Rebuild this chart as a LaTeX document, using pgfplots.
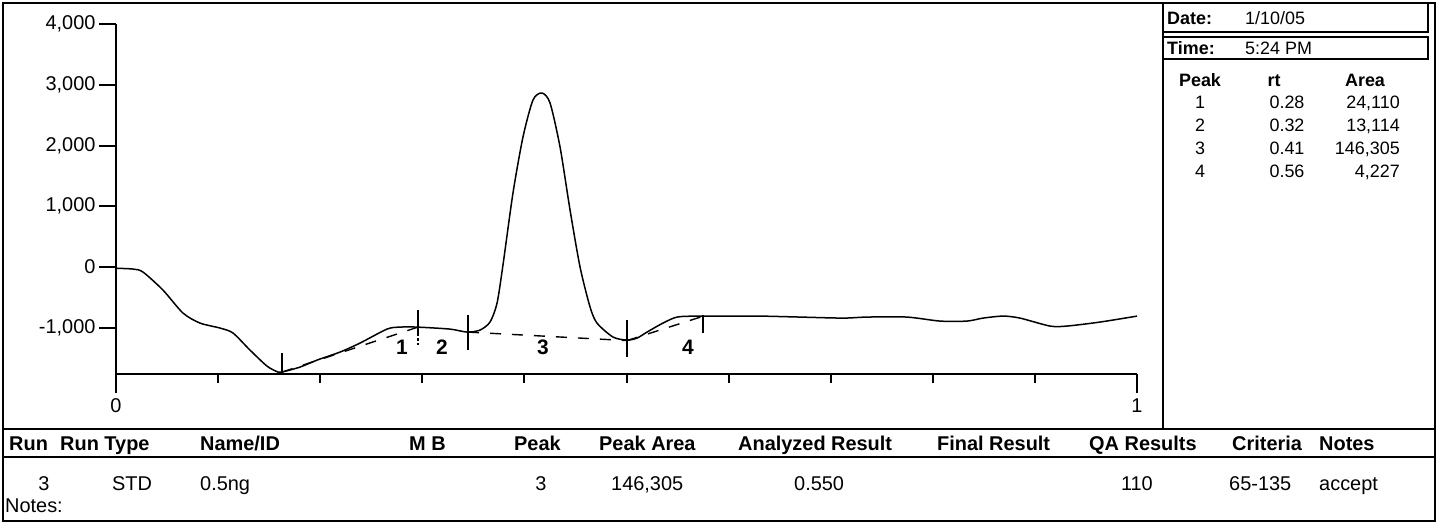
\documentclass[border=0pt]{standalone}
\usepackage{fontspec}
\setmainfont{Liberation Sans}
\usepackage{pgfplots}
\pgfplotsset{compat=1.18}

\newcommand\fs[1]{\fontsize{#1}{#1}\selectfont}

% chromatogram trace (retention time, signal)
\pgfplotstableread{
x y
0.0000 -20
0.0167 -33
0.0264 -82
0.0460 -379
0.0656 -757
0.0823 -922
0.1019 -1004
0.1146 -1086
0.1312 -1366
0.1479 -1630
0.1587 -1728
0.1626 -1728
0.1802 -1646
0.1969 -1531
0.2194 -1399
0.2390 -1251
0.2654 -1021
0.2782 -988
0.2948 -988
0.3271 -1021
0.3438 -1070
0.3565 -1037
0.3663 -905
0.3732 -593
0.3790 33
0.3888 1218
0.3986 2140
0.4084 2749
0.4172 2864
0.4251 2700
0.4349 1975
0.4447 938
0.4545 0
0.4643 -658
0.4711 -922
0.4868 -1152
0.5005 -1202
0.5103 -1169
0.5201 -1070
0.5357 -922
0.5495 -823
0.5690 -807
0.5945 -807
0.6308 -807
0.6700 -823
0.7120 -840
0.7356 -823
0.7747 -823
0.8070 -889
0.8335 -889
0.8492 -840
0.8688 -807
0.8854 -840
0.9148 -971
0.9314 -971
0.9638 -905
1.0000 -807
}\trace

\begin{document}
\begin{tikzpicture}[x=1bp,y=-1bp]
\useasboundingbox (0,0) rectangle (1443,526);

% outer frame and panel rules
\draw[line width=2bp] (3,3) rectangle (1435,521);
\draw[line width=2bp] (3,429) -- (1435,429);
\draw[line width=1.6bp] (3,457) -- (1435,457);
\draw[line width=1.6bp] (1163,3) -- (1163,429);
\draw[line width=1.6bp] (1163,32) -- (1428,32) -- (1428,3);
\draw[line width=1.6bp] (1163,37) -- (1428,37) -- (1428,59) -- (1163,59);

% signal panel
\begin{axis}[at={(116bp,-374bp)}, anchor=south west, scale only axis,
  width=1021bp, height=350bp, xmin=0, xmax=1, ymin=-1760, ymax=4000,
  clip=false,
  axis x line*=bottom, axis y line*=left,
  axis line style={line width=2bp,-},
  tick align=outside, major tick length=9bp,
  tick style={line width=2bp,black},
  xtick={0.1,0.2,0.3,0.4,0.5,0.6,0.7,0.8,0.9}, xticklabels={},
  extra x ticks={0,1}, extra x tick labels={0,1},
  extra x tick style={major tick length=19bp},
  xticklabel style={font=\fs{20}, yshift=-2bp},
  ytick=\empty]
\addplot[line width=1.5bp, smooth, tension=0.45] table[x=x,y=y] {\trace};
% integration baselines
\addplot[line width=1.4bp, dash pattern=on 11bp off 11bp] coordinates {(0.1626,-1728) (0.2958,-988)};
\addplot[line width=1.4bp, dash pattern=on 11bp off 11bp] coordinates {(0.3448,-1070) (0.5005,-1210)};
\addplot[line width=1.4bp, dash pattern=on 11bp off 11bp] coordinates {(0.5005,-1210) (0.5749,-810)};
% peak start/end markers
\addplot[line width=1.7bp] coordinates {(0.1626,-1416) (0.1626,-1728)};
\addplot[line width=1.7bp] coordinates {(0.2958,-708) (0.2958,-1086)};
\addplot[line width=1.2bp, dash pattern=on 3bp off 2bp] coordinates {(0.2958,-1086) (0.2958,-1284)};
\addplot[line width=1.7bp] coordinates {(0.3448,-790) (0.3448,-1366)};
\addplot[line width=1.7bp] coordinates {(0.5005,-872) (0.5005,-1481)};
\addplot[line width=1.7bp] coordinates {(0.5749,-790) (0.5749,-1086)};
% peak numbers
\node[font=\bfseries\fs{21}] at (axis cs:0.2801,-1317) {1};
\node[font=\bfseries\fs{21}] at (axis cs:0.3193,-1317) {2};
\node[font=\bfseries\fs{21}] at (axis cs:0.4182,-1317) {3};
\node[font=\bfseries\fs{21}] at (axis cs:0.5602,-1317) {4};
\end{axis}

% signal scale
\begin{axis}[at={(116bp,-374bp)}, anchor=south west, scale only axis,
  width=1021bp, height=350bp, xmin=0, xmax=1, ymin=-1760, ymax=4000,
  hide x axis, axis y line*=left,
  axis line style={line width=2bp,-},
  tick align=outside, major tick length=17bp,
  tick style={line width=2bp,black},
  ytick={-1000,0,1000,2000,3000,4000},
  yticklabel style={font=\fs{20}},
  /pgf/number format/assume math mode=true,
  /pgf/number format/1000 sep={,}]
\end{axis}

% run summary (top right)
\begin{scope}[every node/.style={inner sep=0pt}]
\node[anchor=base west, font=\bfseries\fs{18}] at (1167,24.5) {Date:};
\node[anchor=base west, font=\fs{18}] at (1245,24.5) {1/10/05};
\node[anchor=base west, font=\bfseries\fs{18}] at (1167,54.5) {Time:};
\node[anchor=base west, font=\fs{18}] at (1245,54.5) {5:24 PM};
\node[anchor=base, font=\bfseries\fs{18}] at (1200,86.5) {Peak};
\node[anchor=base, font=\bfseries\fs{18}] at (1274,86.5) {rt};
\node[anchor=base, font=\bfseries\fs{18}] at (1365,86.5) {Area};
\foreach \p/\r/\a [count=\i] in {1/0.28/{24,110}, 2/0.32/{13,114}, 3/0.41/{146,305}, 4/0.56/{4,227}} {
  \node[anchor=base, font=\fs{18}] at (1200,{85.5+23*\i}) {\p};
  \node[anchor=base, font=\fs{18}] at (1287,{85.5+23*\i}) {\r};
  \node[anchor=base east, font=\fs{18}] at (1400,{85.5+23*\i}) {\a};
}
\end{scope}

% results table
\begin{scope}[every node/.style={anchor=base west, inner sep=0pt}]
\node[font=\bfseries\fs{20}] at (9,450) {Run};
\node[font=\bfseries\fs{20}] at (60,450) {Run Type};
\node[font=\bfseries\fs{20}] at (200,450) {Name/ID};
\node[font=\bfseries\fs{20}] at (409,450) {M B};
\node[font=\bfseries\fs{20}] at (514,450) {Peak};
\node[font=\bfseries\fs{20}] at (599,450) {Peak Area};
\node[font=\bfseries\fs{20}] at (738,450) {Analyzed Result};
\node[font=\bfseries\fs{20}] at (937,450) {Final Result};
\node[font=\bfseries\fs{20}] at (1089,450) {QA Results};
\node[font=\bfseries\fs{20}] at (1232,450) {Criteria};
\node[font=\bfseries\fs{20}] at (1319,450) {Notes};
\node[font=\fs{20}, anchor=base] at (44,490) {3};
\node[font=\fs{20}] at (112,490) {STD};
\node[font=\fs{20}] at (200,490) {0.5ng};
\node[font=\fs{20}, anchor=base] at (541,490) {3};
\node[font=\fs{20}] at (611,490) {146,305};
\node[font=\fs{20}] at (794,490) {0.550};
\node[font=\fs{20}, anchor=base east] at (1153,490) {110};
\node[font=\fs{20}] at (1229,490) {65-135};
\node[font=\fs{20}] at (1319,490) {accept};
\node[font=\fs{20}] at (5,512) {Notes:};
\end{scope}
\end{tikzpicture}
\end{document}
